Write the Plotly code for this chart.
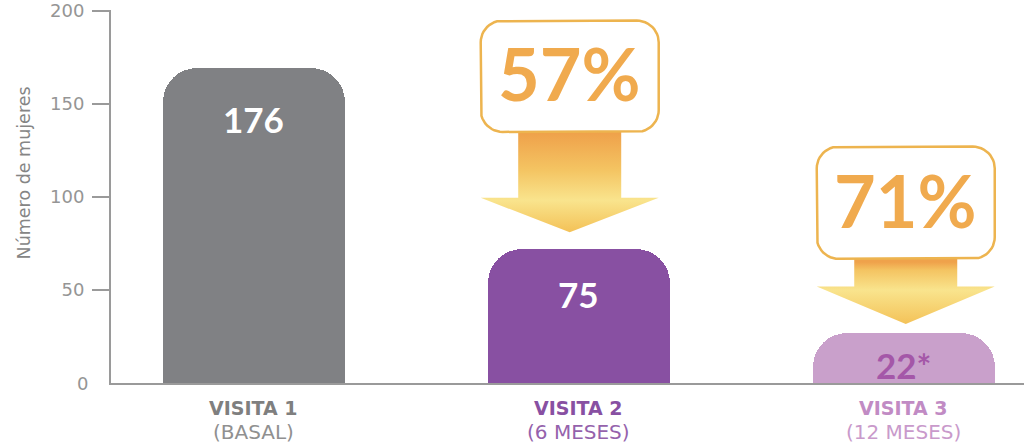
import math
import plotly.graph_objects as go

# ---------------- data ----------------
categories = ["VISITA 1", "VISITA 2", "VISITA 3"]
subtitles = ["(BASAL)", "(6 MESES)", "(12 MESES)"]
bar_heights = [169, 72, 27]          # bar heights as read on the axis
bar_labels = ["176", "75", "22*"]     # printed values
reductions = ["57%", "71%"]          # reduction vs. basal, for visits 2 and 3
y_ticks = [50, 100, 150, 200]

# ---------------- style ----------------
bar_colors = ["#808184", "#8850A2", "#C9A0CB"]
label_colors = ["#FFFFFF", "#FFFFFF", "#A457A8"]
cat_colors = ["#7F7F7F", "#8850A2", "#C18BC4"]
sub_colors = ["#909090", "#9562AC", "#C99ACB"]
label_yshift = [-51, -45, -32]
arrow_xshift_px = [-9, 2]
GRAY = "#959595"
FONT = "Lato"
WIDE = "DejaVu Sans"

W, H = 1024, 444
ML, MR, MT, MB = 111, 0, 5, 61
X_RANGE = [-0.439, 2.37]
Y_RANGE = [0, 200.4]
PX_X = (W - ML - MR) / (X_RANGE[1] - X_RANGE[0])
PX_Y = (H - MT - MB) / (Y_RANGE[1] - Y_RANGE[0])

xs = list(range(len(categories)))

fig = go.Figure()
fig.add_trace(go.Bar(
    x=xs, y=bar_heights, width=0.56,
    marker=dict(color=bar_colors, cornerradius=34, line=dict(width=0)),
    hoverinfo="skip", showlegend=False,
))

# bar value labels
for x, h, lab, c, ys in zip(xs, bar_heights, bar_labels, label_colors, label_yshift):
    fig.add_annotation(x=x, y=h, yanchor="middle", yshift=ys, text=f"<b>{lab}</b>",
                       showarrow=False, font=dict(family=FONT, size=35, color=c))

# arrows with percentage boxes (layout geometry in axis units)
arrow_geom = [
    dict(box_top=194.7, box_bot=134.9, shaft_bot=99.5, tip=81.0),
    dict(box_top=127.0, box_bot=66.7, shaft_bot=51.9, tip=31.7),
]
BOX_W = 178 / PX_X
SHAFT_W = 103 / PX_X
HEAD_W = 178 / PX_X


def rounded_box(xc, w, y0, y1, rpx):
    rx, ry = rpx / PX_X, rpx / PX_Y
    xl, xr = xc - w / 2, xc + w / 2
    pts = []
    corners = [(xr - rx, y1 - ry, 0, 90), (xl + rx, y1 - ry, 90, 180),
               (xl + rx, y0 + ry, 180, 270), (xr - rx, y0 + ry, 270, 360)]
    for cx, cy, a0, a1 in corners:
        for k in range(13):
            a = math.radians(a0 + (a1 - a0) * k / 12)
            pts.append((cx + rx * math.cos(a), cy + ry * math.sin(a)))
    pts.append(pts[0])
    return [p[0] for p in pts], [p[1] for p in pts]


for i, (g, pct) in enumerate(zip(arrow_geom, reductions)):
    xc = xs[i + 1] + arrow_xshift_px[i] / PX_X
    ax = [xc - SHAFT_W / 2, xc + SHAFT_W / 2, xc + SHAFT_W / 2, xc + HEAD_W / 2, xc,
          xc - HEAD_W / 2, xc - SHAFT_W / 2, xc - SHAFT_W / 2]
    ay = [g["box_bot"], g["box_bot"], g["shaft_bot"], g["shaft_bot"], g["tip"],
          g["shaft_bot"], g["shaft_bot"], g["box_bot"]]
    frac = (g["shaft_bot"] - g["tip"]) / (g["box_bot"] - g["tip"])
    fig.add_trace(go.Scatter(
        x=ax, y=ay, mode="lines", line=dict(width=0), fill="toself",
        fillgradient=dict(type="vertical", start=g["tip"], stop=g["box_bot"],
                          colorscale=[[0, "#F3BE52"], [frac, "#F9E48D"],
                                      [min(1, frac + 0.3), "#F4C462"], [1, "#EFA24B"]]),
        hoverinfo="skip", showlegend=False,
    ))
    bx, by = rounded_box(xc, BOX_W, g["box_bot"], g["box_top"], 22)
    fig.add_trace(go.Scatter(
        x=bx, y=by, mode="lines", line=dict(color="#EDB44F", width=2.5),
        fill="toself", fillcolor="#FFFFFF", hoverinfo="skip", showlegend=False,
    ))
    fig.add_annotation(x=xc, y=(g["box_top"] + g["box_bot"]) / 2, yshift=3,
                       text=f"<b>{pct}</b>", showarrow=False,
                       font=dict(family=FONT, size=72, color="#F0AA4E"))

# category labels (two lines, different weights)
for x, cat, sub, c, s in zip(xs, categories, subtitles, cat_colors, sub_colors):
    fig.add_annotation(x=x, xref="x", yref="paper", y=0, yanchor="middle", yshift=-25,
                       text=f"<b>{cat}</b>", showarrow=False,
                       font=dict(family=WIDE, size=19, color=c))
    fig.add_annotation(x=x, xref="x", yref="paper", y=0, yanchor="middle", yshift=-49,
                       text=sub, showarrow=False,
                       font=dict(family=WIDE, size=20, color=s))

fig.update_xaxes(range=X_RANGE, showticklabels=False, showline=True,
                 linecolor="#9A9A9A", linewidth=2, ticks="", showgrid=False,
                 zeroline=False, fixedrange=True)
fig.update_yaxes(range=Y_RANGE, tickvals=y_ticks, showline=True, linecolor="#9A9A9A",
                 linewidth=2, ticks="outside", ticklen=17, tickwidth=2,
                 tickcolor="#9A9A9A", showgrid=False, zeroline=False,
                 tickfont=dict(family=WIDE, size=18, color=GRAY),
                 ticklabelstandoff=4, ticklabeloverflow="allow")

fig.add_annotation(xref="paper", yref="y", x=0, y=0, xanchor="right", xshift=-21,
                   text="0", showarrow=False,
                   font=dict(family=WIDE, size=18, color=GRAY))
fig.add_annotation(xref="paper", yref="paper", x=-0.108, y=0.563, textangle=-90,
                   text="Número de mujeres", showarrow=False,
                   font=dict(family=WIDE, size=17.5, color="#858585"))

fig.update_layout(width=W, height=H, margin=dict(l=ML, r=MR, t=MT, b=MB),
                  plot_bgcolor="white", paper_bgcolor="white", bargap=0)

fig.write_html("out.html", config={"displayModeBar": False},
               post_script="document.body.style.margin='0px';document.body.style.overflow='hidden';")
